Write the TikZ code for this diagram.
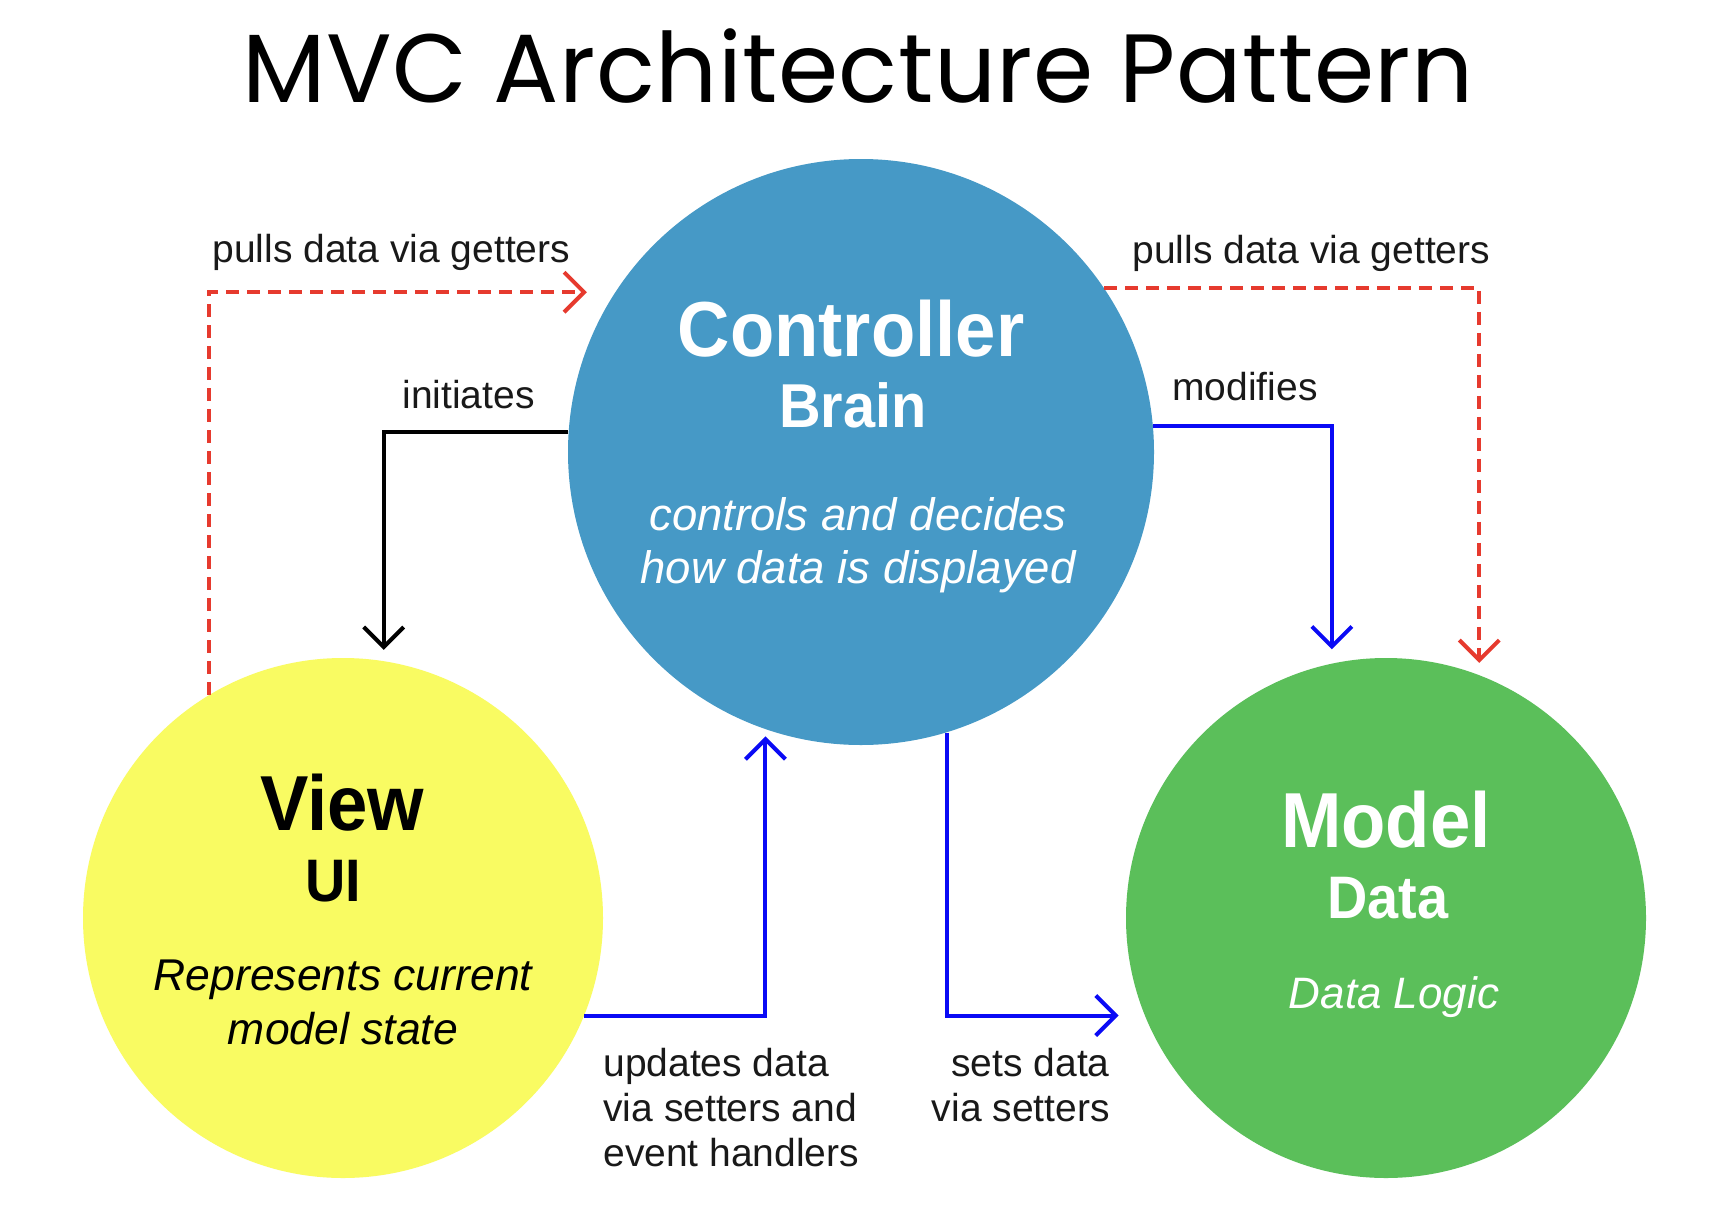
\documentclass[tikz,border=0pt]{standalone}
\usepackage{fontspec}
\setmainfont{Liberation Sans}
\newfontfamily\titlefont[LetterSpace=0.5]{Poppins}
\newfontfamily\headfont[FakeStretch=0.93]{Liberation Sans}
\usetikzlibrary{arrows.meta,calc}

\definecolor{ctrlblue}{RGB}{70,153,198}
\definecolor{viewyellow}{RGB}{249,251,98}
\definecolor{modelgreen}{RGB}{91,191,90}
\definecolor{getred}{RGB}{230,58,46}
\definecolor{setblue}{RGB}{10,10,245}

\tikzset{
  bubble/.style={circle, inner sep=0pt, draw=none},
  txt/.style={inner sep=0pt, anchor=base},
  lbl/.style={inner sep=0pt, font=\fontsize{19.5}{22.5}\selectfont, text=black!90},
  headline/.style={txt, font=\headfont\bfseries\fontsize{39}{44}\selectfont},
  subline/.style={txt, font=\headfont\bfseries\fontsize{#1}{#1}\selectfont},
  noteline/.style={txt, font=\itshape\fontsize{#1}{#1}\selectfont},
  barb/.style={-{Straight Barb[length=10pt,width=20pt]}},
  flow/.style={line width=2pt, barb},
  getflow/.style={flow, draw=getred, dash pattern=on 6.5pt off 4pt},
  setflow/.style={flow, draw=setblue},
  ctrlflow/.style={flow, draw=black},
}

\begin{document}
\begin{tikzpicture}[x=0.5pt, y=-0.5pt]
  \useasboundingbox (0,0) rectangle (1724,1226);
  \fill[white] (0,0) rectangle (1724,1226);

  % title
  \node[txt, font=\titlefont\fontsize{48.5}{56}\selectfont] (title) at (858,102) {MVC Architecture Pattern};

  % the three parts
  \node[bubble, fill=ctrlblue, minimum size=293pt] (C) at (861,452) {};
  \node[bubble, fill=viewyellow, minimum size=260pt] (V) at (343,918) {};
  \node[bubble, fill=modelgreen, minimum size=260pt] (M) at (1386,918) {};

  % controller text
  \begin{scope}[text=white]
    \node[headline] (Ct) at (851,356) {Controller};
    \node[subline=31] (Cs) at (853,427) {Brain};
    \node[noteline=22.75] (Cn1) at (858,530) {controls and decides};
    \node[noteline=22.75] (Cn2) at (858,583) {how data is displayed};
  \end{scope}

  % view text
  \begin{scope}[text=black]
    \node[headline] (Vt) at (342,830) {View};
    \node[subline=30] (Vs) at (333,901) {UI};
    \node[noteline=22.25] (Vn1) at (343,990) {Represents current};
    \node[noteline=22.25] (Vn2) at (343,1044) {model state};
  \end{scope}

  % model text
  \begin{scope}[text=white]
    \node[headline] (Mt) at (1386,847) {Model};
    \node[subline=30] (Ms) at (1388,918) {Data};
    \node[noteline=22] (Mn) at (1394,1008) {Data Logic};
  \end{scope}

  % connectors
  \draw[getflow, shorten >=14pt] (V.121) |- (C.147);
  \draw[getflow, shorten >=6pt] (C.34) -| (M.69);
  \draw[ctrlflow, shorten >=5.5pt] (C.176) -| (V.81);
  \draw[setflow, shorten >=7pt] (C.5) -| (M.102);
  \draw[setflow, shorten >=3.5pt] (V.-22.5) -| (C.-109);
  \draw[setflow, shorten >=13pt] (C.-73) |- (M.202.5);

  % connector labels
  \node[lbl, anchor=base west] (l1) at (212,262) {pulls data via getters};
  \node[lbl, anchor=base west] (l2) at (1132,263) {pulls data via getters};
  \node[lbl, anchor=base west] (l3) at (402,408) {initiates};
  \node[lbl, anchor=base west] (l4) at (1172,400) {modifies};
  \node[lbl, anchor=base west, align=left] (l5) at (603,1166.5) {updates data\\via setters and\\event handlers};
  \node[lbl, anchor=base east, align=right] (l6) at (1110,1121.5) {sets data\\via setters};
\end{tikzpicture}
\end{document}
